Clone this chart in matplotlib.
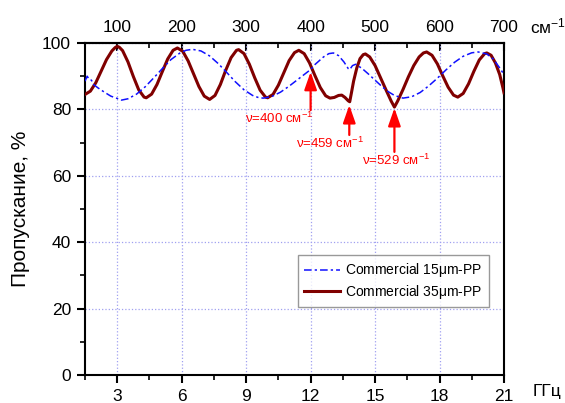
import matplotlib
matplotlib.use("Agg")
import matplotlib.pyplot as plt
from matplotlib.ticker import MultipleLocator

plt.rcParams['font.family'] = ['Liberation Sans', 'DejaVu Sans']
plt.rcParams['mathtext.fontset'] = 'custom'
plt.rcParams['mathtext.rm'] = 'Liberation Sans'
plt.rcParams['mathtext.it'] = 'Liberation Sans'

# ---- data (frequency in THz-scale units shown as "ГГц", transmission %) ----
f_15 = [1.5, 1.6, 1.7, 1.8, 1.9, 2.1, 2.4, 2.7, 3.0, 3.2, 3.5, 3.9, 4.3, 4.7, 5.1,
        5.5, 5.9, 6.2, 6.5, 6.9, 7.3, 7.7, 8.1, 8.5, 8.9, 9.3, 9.6, 9.8, 10.2,
        10.6, 11.0, 11.4, 11.8, 12.0, 12.2, 12.6, 12.85, 13.06, 13.3, 13.55,
        13.75, 13.82, 13.95, 14.1, 14.4, 14.7, 15.0, 15.3, 15.6, 15.9, 16.3,
        16.7, 17.1, 17.5, 17.9, 18.3, 18.7, 19.1, 19.5, 19.8, 20.2, 20.5, 20.8, 21.0]
t_15 = [88.5, 90.0, 89.0, 88.8, 87.5, 86.5, 85.2, 84.0, 83.3, 82.8, 83.2, 84.6, 86.8,
        89.5, 92.3, 95.0, 96.9, 97.8, 98.1, 97.6, 96.1, 93.8, 91.1, 88.3, 85.9,
        84.2, 83.5, 83.4, 83.9, 85.2, 87.0, 89.0, 91.0, 92.0, 93.5, 95.8, 96.8,
        97.0, 96.2, 94.3, 92.3, 92.0, 93.2, 93.6, 92.3, 90.6, 88.8, 87.0, 85.4,
        84.2, 83.4, 83.8, 85.1, 87.1, 89.4, 91.9, 94.2, 96.0, 97.05, 97.3, 96.7,
        95.2, 92.5, 90.5]

f_35 = [1.5, 1.75, 2.0, 2.25, 2.5, 2.75, 2.9, 3.0, 3.1, 3.25, 3.5, 3.75, 4.0, 4.25, 4.35,
        4.6, 4.85, 5.1, 5.35, 5.6, 5.8, 6.05, 6.3, 6.55, 6.8, 7.05, 7.3, 7.55,
        7.8, 8.05, 8.3, 8.55, 8.65, 8.9, 9.15, 9.4, 9.65, 9.9, 10.0, 10.25, 10.5,
        10.75, 11.0, 11.25, 11.45, 11.7, 11.95, 12.2, 12.45, 12.7, 12.9, 13.1,
        13.3, 13.45, 13.6, 13.75, 13.82, 13.9, 14.0, 14.15, 14.3, 14.45, 14.55,
        14.75, 15.0, 15.25, 15.5, 15.75, 15.9, 16.05, 16.3, 16.55, 16.8, 17.05,
        17.25, 17.4, 17.65, 17.9, 18.15, 18.4, 18.65, 18.85, 19.1, 19.35, 19.6,
        19.85, 20.1, 20.2, 20.4, 20.6, 20.8, 20.95, 21.0]
t_35 = [84.5, 85.5, 88.0, 91.5, 95.0, 97.6, 98.6, 99.0, 98.7, 97.7, 94.3, 89.9, 85.9, 83.7, 83.5,
        84.6, 87.5, 91.4, 95.2, 97.8, 98.5, 97.5, 94.6, 90.75, 86.9, 84.0, 83.0,
        84.2, 87.5, 91.8, 95.6, 97.8, 98.0, 96.8, 93.6, 89.5, 85.8, 83.7, 83.5,
        84.5, 87.3, 91.0, 94.7, 97.1, 97.8, 96.8, 94.0, 90.2, 86.6, 84.1, 83.4,
        83.6, 84.2, 84.3, 83.6, 82.6, 82.3, 85.0, 88.5, 92.5, 95.3, 96.5, 96.7,
        95.8, 93.2, 89.6, 86.0, 82.5, 80.7, 82.5, 86.0, 89.8, 93.2, 95.8, 97.0,
        97.3, 96.3, 93.7, 90.1, 86.7, 84.3, 83.7, 84.8, 87.7, 91.5, 94.9, 96.8,
        97.0, 96.3, 94.0, 90.5, 86.5, 85.0]

labels = ['Commercial 15$\\mu$m-PP', 'Commercial 35$\\mu$m-PP']
marked_f = [12.0, 13.8, 15.9]
marked_nu = [400, 459, 529]
arrow_tip = [91.3, 81.3, 80.4]
arrow_tail = [79.8, 72.3, 67.2]
text_pos = [(12.1, 77.4, 'right'), (12.9, 69.9, 'center'), (16.0, 64.5, 'center')]

xticks = [3, 6, 9, 12, 15, 18, 21]
yticks = [0, 20, 40, 60, 80, 100]
top_ticks = [100, 200, 300, 400, 500, 600, 700]

fig = plt.figure(figsize=(5.65, 4.03), dpi=100)
ax = fig.add_axes([85/565, 28/403, 419/565, 332/403])

red = '#800000'
blue = '#1010ff'
l35, = ax.plot(f_35, t_35, color=red, lw=2.2, zorder=3, label=labels[1])
l15, = ax.plot(f_15, t_15, color=blue, lw=1.1, ls=(0, (5, 2, 1.5, 2)), zorder=4, label=labels[0])

ax.set_xlim(1.5, 21)
ax.set_ylim(0, 100)
ax.set_xticks(xticks)
ax.set_yticks(yticks)
ax.xaxis.set_minor_locator(MultipleLocator(1.5))
ax.yaxis.set_minor_locator(MultipleLocator(10))
ax.tick_params(axis='both', which='major', direction='out', length=6, width=1.5,
               labelsize=12.5, pad=4)
ax.tick_params(axis='both', which='minor', direction='out', length=3.5, width=1.2)
ax.tick_params(top=False, right=False, which='both')
for s in ax.spines.values():
    s.set_linewidth(1.5)

ax.grid(True, which='major', color='#a0a0f0', ls=':', lw=0.9)

ax.set_ylabel('Пропускание, %', fontsize=15, labelpad=9)

sec = ax.secondary_xaxis('top', functions=(lambda x: x * 100.0 / 3.0, lambda w: w * 3.0 / 100.0))
sec.set_xticks(top_ticks)
sec.xaxis.set_minor_locator(MultipleLocator(50))
sec.tick_params(which='major', direction='in', length=6, width=1.5, labelsize=12.5, pad=6)
sec.tick_params(which='minor', direction='in', length=3.5, width=1.2)
sec.spines['top'].set_linewidth(1.5)

ax.text(1.069, -0.051, 'ГГц', transform=ax.transAxes, fontsize=12.5, ha='left', va='center')
ax.text(1.062, 1.05, 'см$^{-1}$', transform=ax.transAxes, fontsize=12.5, ha='left', va='center')

for fx, nu, tip, tail, (tx, ty, ha) in zip(marked_f, marked_nu, arrow_tip, arrow_tail, text_pos):
    ax.annotate('', xy=(fx, tip), xytext=(fx, tail),
                arrowprops=dict(arrowstyle='-|>,head_length=1.2,head_width=0.42',
                                color='red', lw=1.6, mutation_scale=9,
                                shrinkA=0, shrinkB=0), zorder=5)
    ax.text(tx, ty, 'ν=%d см$^{-1}$' % nu, color='red', fontsize=9.5, ha=ha, va='center', zorder=5)

leg = ax.legend(handles=[l15, l35], loc='upper right', bbox_to_anchor=(0.964, 0.361),
                fontsize=10, frameon=True, fancybox=False, edgecolor='#808080',
                handlelength=2.6, borderpad=0.45, labelspacing=0.25, handletextpad=0.4,
                borderaxespad=0)
leg.get_frame().set_linewidth(1.0)

fig.savefig('out.png', dpi=100)
